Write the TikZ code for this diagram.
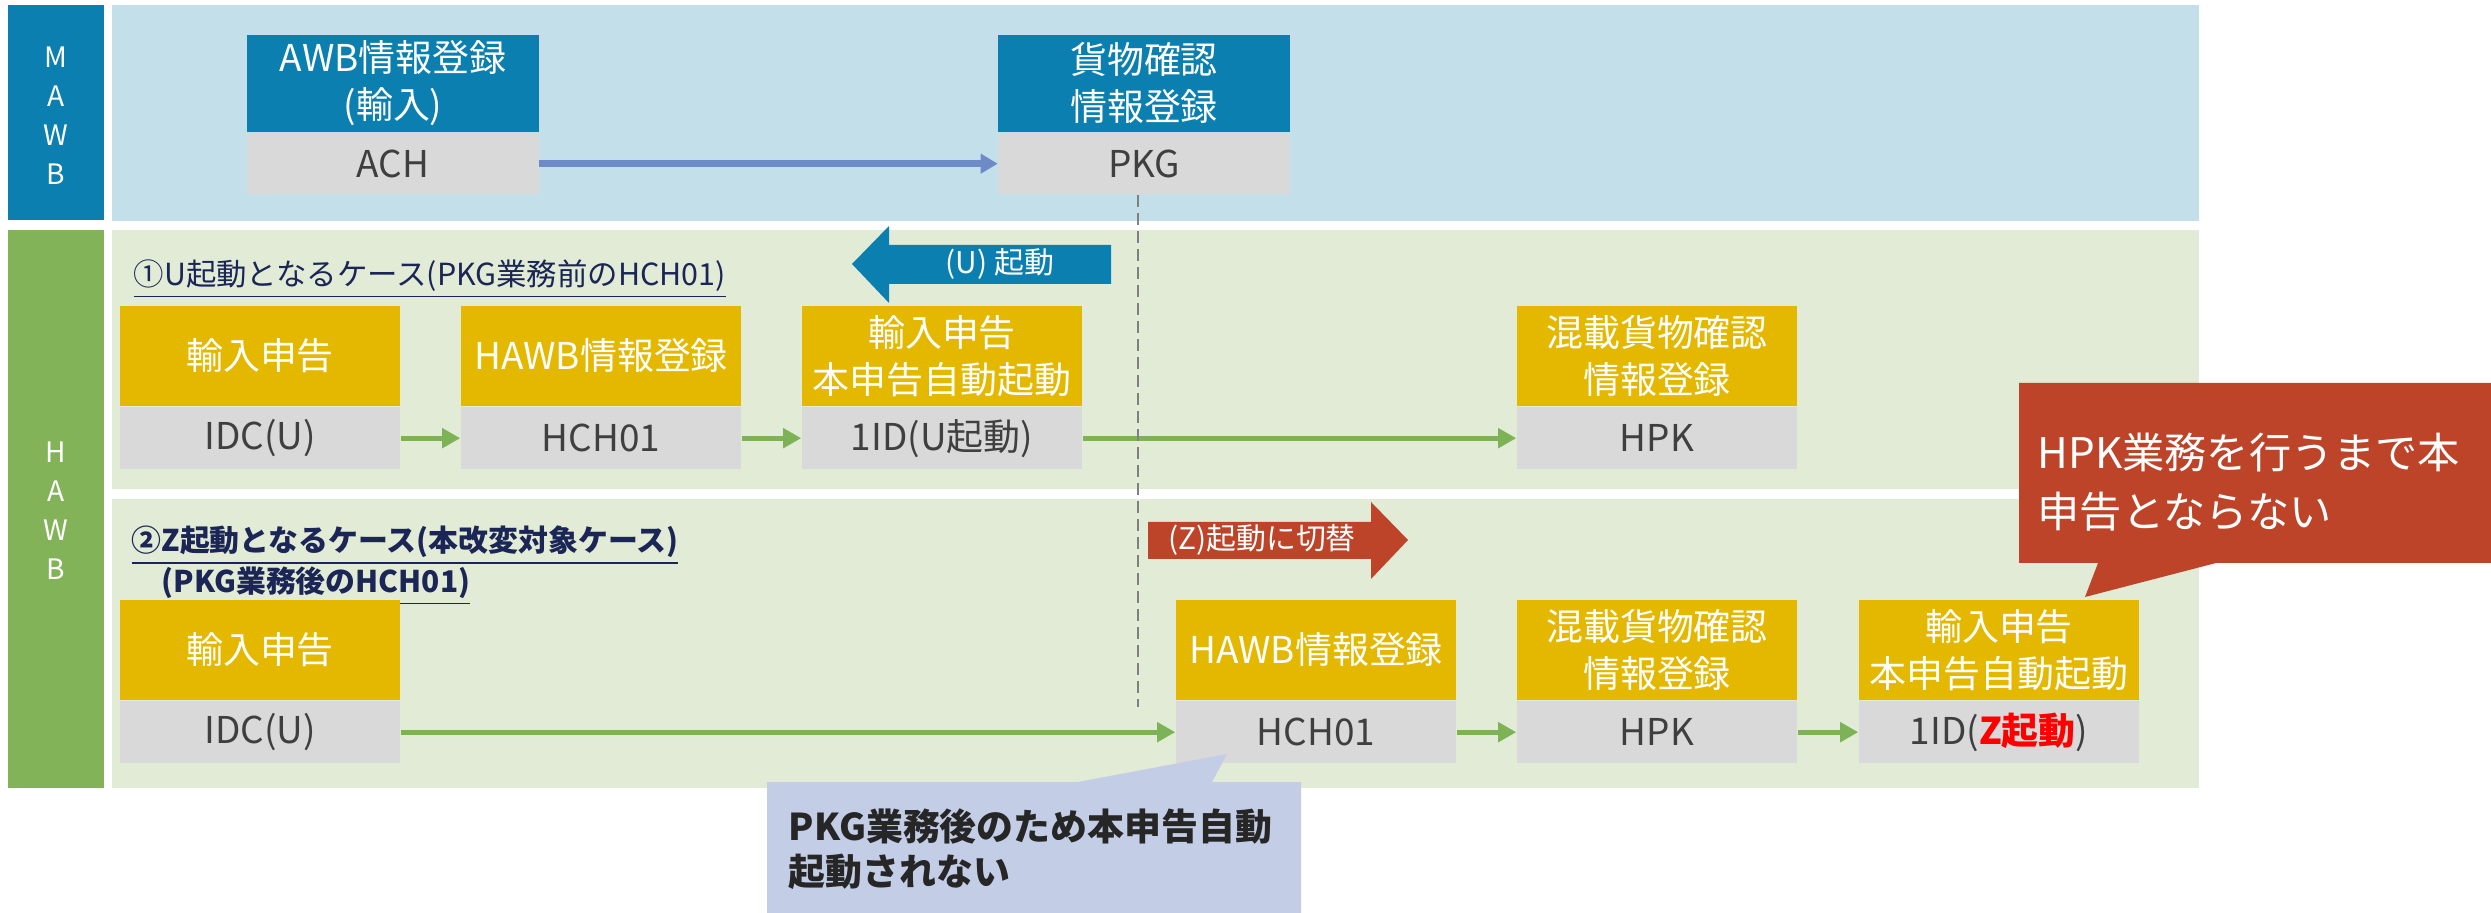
\documentclass[tikz,border=0pt]{standalone}
\usepackage{fontspec}
\setmainfont{Noto Sans CJK JP}
\usepackage{tikz}
\usetikzlibrary{arrows.meta, positioning}

\definecolor{mawbblue}{HTML}{0A7FB0}
\definecolor{mawbbg}{HTML}{C3E0EA}
\definecolor{hawbgreen}{HTML}{83B358}
\definecolor{hawbbg}{HTML}{E1EBD5}
\definecolor{boxyellow}{HTML}{E5B800}
\definecolor{boxgrey}{HTML}{D9D9D9}
\definecolor{codegrey}{HTML}{3F3F3F}
\definecolor{flowgreen}{HTML}{7DB256}
\definecolor{flowblue}{HTML}{6C8BC7}
\definecolor{alertred}{HTML}{BD4429}
\definecolor{noteblue}{HTML}{C3CEE6}
\definecolor{titlenavy}{HTML}{1B2556}
\definecolor{zred}{HTML}{FF0000}

\begin{document}
\begin{tikzpicture}[x=0.01cm, y=-0.01cm,
    jobtop/.style={rectangle, fill=boxyellow, text=white, anchor=north, minimum width=2.8cm, minimum height=1.0cm, inner sep=0pt, align=center, font=\fontsize{10.5}{13.4}\selectfont},
    jobcode/.style={rectangle, fill=boxgrey, text=codegrey, minimum width=2.8cm, minimum height=0.62cm, inner sep=0pt, font=\fontsize{10.5}{13.4}\selectfont},
    mawbtop/.style={jobtop, fill=mawbblue, minimum width=2.91cm, minimum height=0.97cm},
    mawbcode/.style={jobcode, minimum width=2.91cm, minimum height=0.61cm},
    sidetext/.style={text=white, align=center, font=\fontsize{8}{11.1}\selectfont},
    casetitle/.style={text=titlenavy, align=left, inner sep=0pt, font=\fontsize{8.65}{11.4}\selectfont},
    arrowtext/.style={text=white, inner sep=0pt, font=\fontsize{8.5}{10}\selectfont},
    jobarrow/.style={draw=flowgreen, line width=0.05cm, -{Triangle[length=0.18cm, width=0.19cm]}},
    mawbarrow/.style={draw=flowblue, line width=0.065cm, -{Triangle[length=0.17cm, width=0.19cm]}},
    cutline/.style={draw=gray, line width=0.025cm, dash pattern=on 0.12cm off 0.06cm}
]
    \useasboundingbox (0,0) rectangle (2491,913);

    % Lanes
    \fill[mawbblue] (8,5) rectangle (104,220);
    \fill[mawbbg] (112,5) rectangle (2199,221);
    \fill[hawbgreen] (8,230) rectangle (104,788);
    \fill[hawbbg] (112,230) rectangle (2199,489);
    \fill[hawbbg] (112,499) rectangle (2199,788);
    \node[sidetext] (mawb) at (56,116) {M\\A\\W\\B};
    \node[sidetext] (hawb) at (56,511) {H\\A\\W\\B};

    % Case titles
    \node[casetitle, anchor=west] (case1) at (133,279) {\underline{①U起動となるケース(PKG業務前のHCH01)}};
    \node[casetitle, anchor=west, font=\fontsize{8.5}{11.6}\selectfont\bfseries] (case2) at (131,566) {\underline{②Z起動となるケース(本改変対象ケース)}\\\underline{　(PKG業務後のHCH01)}};

    % MAWB jobs
    \node[mawbtop] (awb) at (393,34) {AWB情報登録\\(輸入)};
    \node[mawbcode, below=0pt of awb] (ach) {ACH};
    \node[mawbtop] (cargo) at (1144,34) {貨物確認\\情報登録};
    \node[mawbcode, below=0pt of cargo] (pkg) {PKG};

    % Case 1 jobs
    \node[jobtop] (imp1) at (260,305) {輸入申告};
    \node[jobcode, below=0pt of imp1] (idc1) {IDC(U)};
    \node[jobtop] (hawb1) at (601,305) {HAWB情報登録};
    \node[jobcode, below=0pt of hawb1] (hch1) {HCH01};
    \node[jobtop] (auto1) at (942,305) {輸入申告\\本申告自動起動};
    \node[jobcode, below=0pt of auto1] (id1) {1ID(U起動)};
    \node[jobtop] (mixed1) at (1657,305) {混載貨物確認\\情報登録};
    \node[jobcode, below=0pt of mixed1] (hpk1) {HPK};

    % Case 2 jobs
    \node[jobtop] (imp2) at (260,599) {輸入申告};
    \node[jobcode, below=0pt of imp2] (idc2) {IDC(U)};
    \node[jobtop] (hawb2) at (1316,599) {HAWB情報登録};
    \node[jobcode, below=0pt of hawb2] (hch2) {HCH01};
    \node[jobtop] (mixed2) at (1657,599) {混載貨物確認\\情報登録};
    \node[jobcode, below=0pt of mixed2] (hpk2) {HPK};
    \node[jobtop] (auto2) at (1999,599) {輸入申告\\本申告自動起動};
    \node[jobcode, below=0pt of auto2] (id2) {1ID(\textcolor{zred}{\bfseries Z起動})};

    % Flows
    \draw[mawbarrow] (ach) -- (pkg);
    \draw[jobarrow] (idc1) -- (hch1);
    \draw[jobarrow] (hch1) -- (id1);
    \draw[jobarrow] (id1) -- (hpk1);
    \draw[jobarrow] (idc2) -- (hch2);
    \draw[jobarrow] (hch2) -- (hpk2);
    \draw[jobarrow] (hpk2) -- (id2);

    % PKG cut-off line
    \coordinate (cutoff) at (1138,707);
    \draw[cutline] (cutoff |- pkg.south) -- (cutoff);

    % Start arrows
    \fill[mawbblue] (1111,245) -- (889,245) -- (889,226) -- (852,264) -- (889,303) -- (889,284) -- (1111,284) -- cycle;
    \node[arrowtext] (ustart) at (1000,264) {(U) 起動};
    \fill[alertred] (1148,522) -- (1371,522) -- (1371,502) -- (1408,540) -- (1371,579) -- (1371,559) -- (1148,559) -- cycle;
    \node[arrowtext] (zswitch) at (1262,540) {(Z)起動に切替};

    % Callouts
    \fill[noteblue] (767,782) -- (1078,782) -- (1227,754) -- (1212,782) -- (1301,782) -- (1301,913) -- (767,913) -- cycle;
    \node[text=codegrey!60!black, align=left, anchor=west, inner sep=0pt, font=\fontsize{10.5}{12.8}\selectfont\bfseries] (note) at (788,849) {PKG業務後のため本申告自動\\起動されない};
    \fill[alertred] (2019,383) -- (2491,383) -- (2491,563) -- (2216,563) -- (2085,597) -- (2098,563) -- (2019,563) -- cycle;
    \node[text=white, align=left, anchor=west, inner sep=0pt, font=\fontsize{12}{16.8}\selectfont] (alert) at (2037,482) {HPK業務を行うまで本\\申告とならない};
\end{tikzpicture}
\end{document}
